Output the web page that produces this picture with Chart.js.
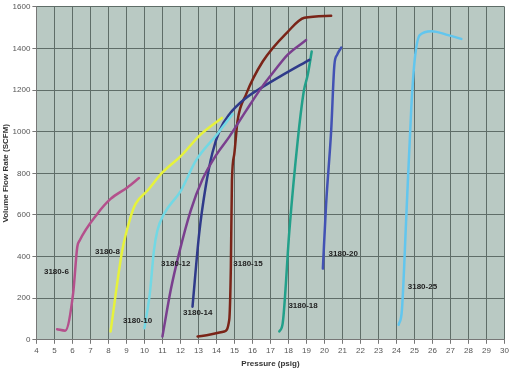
<!DOCTYPE html>
<html>
<head>
<meta charset="utf-8">
<script src="https://cdn.jsdelivr.net/npm/chart.js@4"></script>
<style>
  html, body { margin: 0; padding: 0; background: #fff; }
  #wrap { width: 511px; height: 373px; position: relative; }
</style>
</head>
<body>
<div id="wrap"><canvas id="flowChart"></canvas></div>
<script>
// Series data (pressure psig -> flow SCFM)
const s6x  = [5.15, 5.6, 6.04, 6.27, 6.41, 7.38, 8.12, 9.05, 9.7];
const s6y  = [51, 44, 223, 446, 478, 605, 677, 732, 777];
const s8x  = [8.12, 8.77, 9.23, 9.51, 10.16, 11.0, 12.02, 13.13, 14.3];
const s8y  = [40, 430, 589, 653, 716, 804, 883, 987, 1066];
const s10x = [10.0, 10.3, 10.53, 10.72, 11.09, 12.02, 12.85, 14.06, 14.9];
const s10y = [56, 223, 430, 525, 605, 716, 860, 990, 1085];
const s12x = [11.0, 11.46, 11.92, 12.57, 13.22, 14.0, 14.71, 15.64, 16.57, 17.2, 17.96, 18.98];
const s12y = [16, 239, 414, 621, 770, 890, 975, 1100, 1220, 1290, 1370, 1440];
const s14x = [12.67, 13.04, 13.41, 13.78, 14.2, 14.71, 15.64, 16.57, 17.59, 19.16];
const s14y = [159, 510, 740, 900, 1010, 1083, 1162, 1215, 1268, 1345];
const s15x = [12.95, 14.43, 14.71, 14.8, 14.86, 14.99, 15.17, 15.64, 16.57, 17.96, 18.88, 20.37];
const s15y = [16, 40, 96, 350, 764, 892, 1051, 1178, 1337, 1480, 1547, 1557];
const s18x = [17.49, 17.68, 18.05, 18.51, 18.85, 19.07, 19.29];
const s18y = [40, 80, 525, 955, 1194, 1273, 1385];
const s20x = [19.91, 20.09, 20.37, 20.55, 20.7, 20.93];
const s20y = [342, 653, 1003, 1321, 1369, 1404];
const s25x = [24.12, 24.3, 24.55, 24.82, 25.0, 25.29, 25.94, 26.87, 27.6];
const s25y = [72, 143, 605, 1114, 1337, 1464, 1483, 1464, 1446];

const seriesNames = ['3180-6', '3180-8', '3180-10', '3180-12', '3180-14', '3180-15', '3180-18', '3180-20', '3180-25'];
const seriesX = [s6x, s8x, s10x, s12x, s14x, s15x, s18x, s20x, s25x];
const seriesY = [s6y, s8y, s10y, s12y, s14y, s15y, s18y, s20y, s25y];
const seriesColors = ['#b4508c', '#e6f23c', '#72d8e4', '#7a3f8e', '#2f3a8a', '#7a2418', '#22a08a', '#4252b4', '#62c6ee'];

// label positions in data units
const labelX = [5.11, 7.95, 9.62, 11.74, 12.96, 15.75, 18.81, 21.04, 25.44];
const labelY = [325, 425, 91, 363, 129, 363, 162, 415, 253];

const datasets = seriesNames.map((name, i) => ({
  label: name,
  data: seriesX[i].map((x, j) => ({ x, y: seriesY[i][j] })),
  borderColor: seriesColors[i],
  backgroundColor: seriesColors[i],
  borderWidth: 2.5,
  showLine: true,
  pointRadius: 0,
  cubicInterpolationMode: 'monotone',
  borderCapStyle: 'round',
  borderJoinStyle: 'round'
}));

// plot area background + curve labels
const plotDecor = {
  id: 'plotDecor',
  beforeDraw(chart) {
    const { ctx, chartArea: a } = chart;
    ctx.save();
    ctx.fillStyle = '#b9c9c3';
    ctx.fillRect(a.left, a.top, a.right - a.left, a.bottom - a.top);
    ctx.restore();
  },
  afterDatasetsDraw(chart) {
    const { ctx, scales } = chart;
    ctx.save();
    ctx.font = 'bold 8px "Liberation Sans", Arial, sans-serif';
    ctx.fillStyle = '#222';
    ctx.textAlign = 'center';
    ctx.textBaseline = 'middle';
    seriesNames.forEach((name, i) => {
      ctx.fillText(name, scales.x.getPixelForValue(labelX[i]), scales.y.getPixelForValue(labelY[i]));
    });
    ctx.restore();
  }
};

new Chart(document.getElementById('flowChart'), {
  type: 'scatter',
  data: { datasets },
  plugins: [plotDecor],
  options: {
    responsive: true,
    maintainAspectRatio: false,
    animation: false,
    layout: { padding: { top: 0, right: 4, left: 1, bottom: 4 } },
    plugins: {
      legend: { display: false },
      tooltip: { enabled: false }
    },
    scales: {
      x: {
        type: 'linear',
        min: 4,
        max: 30,
        grid: { color: '#5f6d68', lineWidth: 1, tickLength: 4, tickColor: '#777' },
        border: { color: '#777' },
        ticks: {
          stepSize: 1,
          autoSkip: false,
          maxRotation: 0,
          color: '#555',
          padding: 2,
          font: { family: 'Liberation Sans', size: 8 }
        },
        title: {
          display: true,
          text: 'Pressure (psig)',
          color: '#333',
          padding: { top: 2, bottom: 0 },
          font: { family: 'Liberation Sans', size: 8, weight: 'bold' }
        }
      },
      y: {
        min: 0,
        max: 1600,
        grid: { color: '#5f6d68', lineWidth: 1, tickLength: 4, tickColor: '#777' },
        border: { color: '#777' },
        ticks: {
          stepSize: 200,
          color: '#555',
          padding: 2,
          font: { family: 'Liberation Sans', size: 8 },
          callback: (v) => String(v)
        },
        title: {
          display: true,
          text: 'Volume Flow Rate (SCFM)',
          color: '#333',
          padding: { top: 0, bottom: 0 },
          font: { family: 'Liberation Sans', size: 8, weight: 'bold' }
        }
      }
    }
  }
});
</script>
</body>
</html>
